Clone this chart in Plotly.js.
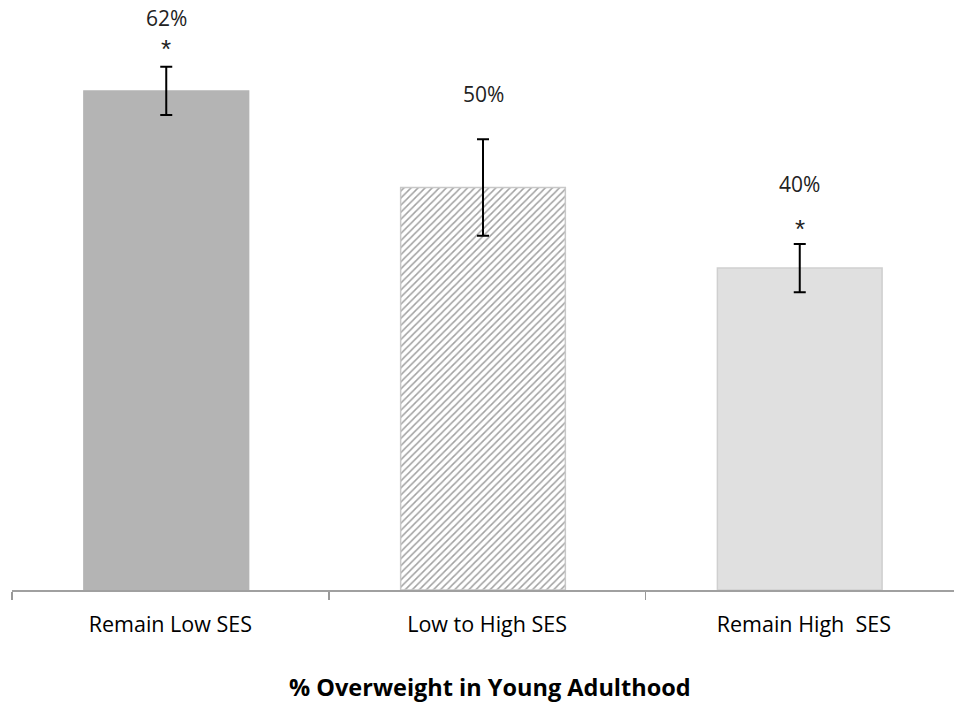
<!DOCTYPE html>
<html>
<head>
<meta charset="utf-8">
<script src="https://cdn.plot.ly/plotly-3.0.1.min.js"></script>
<style>html,body{margin:0;padding:0;background:#fff;}#chart{width:954px;height:704px;}</style>
</head>
<body>
<div id="chart"></div>
<script>
const categories = ["Remain Low SES", "Low to High SES", "Remain High  SES"];
const values = [62, 50, 40];
const errors = [3, 6, 3];
const valueLabels = ["62%", "50%", "40%"];
const labelY = [71.1, 61.6, 50.4];
const stars = ["*", "", "*"];
const starY = [67.2, null, 44.9];
const chartTitle = "% Overweight in Young Adulthood";

const fillColors = ["#b4b4b4", "#ffffff", "#e0e0e0"];
const lineColors = ["#b4b4b4", "#c8c8c8", "#cfcfcf"];
const patternShapes = ["", "/", ""];

const trace = {
  type: "bar",
  x: categories,
  y: values,
  width: 0.52,
  offset: -0.273,
  marker: {
    color: fillColors,
    line: {color: lineColors, width: 1.5},
    pattern: {shape: patternShapes, fgcolor: "#a8a8a8", bgcolor: "#ffffff", size: 5, solidity: 0.3, fillmode: "overlay"}
  },
  error_y: {type: "data", array: errors, visible: true, color: "#000000", thickness: 2, width: 6},
  hoverinfo: "none"
};

const annotations = [];
categories.forEach((c, i) => {
  annotations.push({x: c, y: labelY[i], xref: "x", yref: "y", xshift: -4, text: valueLabels[i], showarrow: false,
    font: {family: "Open Sans, Liberation Sans, sans-serif", size: 21, color: "#222"}});
  if (stars[i]) {
    annotations.push({x: c, y: starY[i], xref: "x", yref: "y", xshift: -4, text: stars[i], showarrow: false,
      font: {family: "Liberation Sans, sans-serif", size: 26, color: "#222"}});
  }
});
annotations.push({x: 0.5074, y: -0.1644, xref: "paper", yref: "paper", xanchor: "center", yanchor: "middle",
  text: "<b>" + chartTitle + "</b>", showarrow: false, borderpad: 0,
  font: {family: "Open Sans, Liberation Sans, sans-serif", size: 23.5, color: "#000"}});

const layout = {
  width: 954, height: 704,
  margin: {l: 12, r: 0, t: 0, b: 114},
  paper_bgcolor: "#ffffff", plot_bgcolor: "#ffffff",
  showlegend: false,
  xaxis: {
    type: "category",
    range: [-0.5, 2.474],
    tickson: "boundaries",
    ticks: "outside", ticklen: 8, tickcolor: "#999", tickwidth: 1.5,
    ticklabelstandoff: 14,
    showline: true, linecolor: "#a0a0a0", linewidth: 2,
    showgrid: false, zeroline: false,
    tickfont: {family: "Open Sans, Liberation Sans, sans-serif", size: 21.5, color: "#000"}
  },
  yaxis: {
    range: [0, 73.3],
    visible: false, showgrid: false, zeroline: false
  },
  annotations: annotations
};

Plotly.newPlot("chart", [trace], layout, {displayModeBar: false, staticPlot: true});
</script>
</body>
</html>
